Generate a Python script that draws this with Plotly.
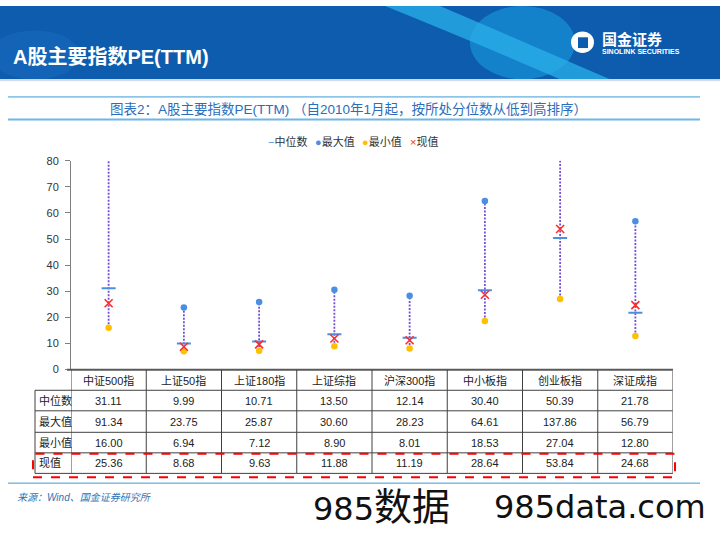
import plotly.graph_objects as go

# ---------------- data ----------------
categories = ["中证500指", "上证50指", "上证180指", "上证综指", "沪深300指", "中小板指", "创业板指", "深证成指"]
median_vals = [31.11, 9.99, 10.71, 13.50, 12.14, 30.40, 50.39, 21.78]
max_vals = [91.34, 23.75, 25.87, 30.60, 28.23, 64.61, 137.86, 56.79]
min_vals = [16.00, 6.94, 7.12, 8.90, 8.01, 18.53, 27.04, 12.80]
current_vals = [25.36, 8.68, 9.63, 11.88, 11.19, 28.64, 53.84, 24.68]
row_labels = ["中位数", "最大值", "最小值", "现值"]
y_ticks = [0, 10, 20, 30, 40, 50, 60, 70, 80]

W, H = 720, 540
FONT = "Arial, 'Liberation Sans', 'Noto Sans CJK SC', sans-serif"


def px(p):
    return p / W


def py(p):
    return 1 - p / H


xs = list(range(len(categories)))

fig = go.Figure()

# range lines (min -> max)
lx, ly = [], []
for i in xs:
    lx += [i, i, None]
    ly += [min_vals[i], max_vals[i], None]
fig.add_trace(go.Scatter(x=lx, y=ly, mode="lines",
                         line=dict(color="#7350D6", width=1.8, dash="2px,1.5px"),
                         hoverinfo="skip", name="range"))
fig.add_trace(go.Scatter(x=xs, y=min_vals, mode="markers", name="最小值",
                         marker=dict(symbol="circle", size=6.5, color="#FFC000")))
fig.add_trace(go.Scatter(x=xs, y=max_vals, mode="markers", name="最大值",
                         marker=dict(symbol="circle", size=6.5, color="#4A8FE2")))
fig.add_trace(go.Scatter(x=xs, y=median_vals, mode="markers", name="中位数",
                         marker=dict(symbol="line-ew", size=10,
                                     line=dict(color="#4A8FE2", width=2))))
fig.add_trace(go.Scatter(x=xs, y=current_vals, mode="markers", name="现值",
                         marker=dict(symbol="x-thin", size=8,
                                     line=dict(color="#FF2A2A", width=1.6))))

shapes = []
annotations = []

# ---------------- header banner ----------------
shapes.append(dict(type="rect", xref="paper", yref="paper", x0=0, x1=1, y0=py(75), y1=1,
                   fillcolor="#0D5CAD", line=dict(width=0), layer="below"))
shapes.append(dict(type="circle", xref="paper", yref="paper", x0=px(-10), x1=px(80), y0=py(75), y1=py(25),
                   fillcolor="#1A6FC2", opacity=0.45, line=dict(width=0), layer="below"))
shapes.append(dict(type="circle", xref="paper", yref="paper", x0=px(470), x1=px(575), y0=py(75), y1=py(0),
                   fillcolor="#1CA3E3", opacity=0.55, line=dict(width=0), layer="below"))
streak = "M {a},{b} L {c},{b} Q {d},{e} {f},{g} L {h},{g} Q {i},{j} {a},{b} Z".format(
    a=px(385), b=py(0), c=px(440), d=px(520), e=py(35), f=px(610), g=py(75), h=px(560), i=px(470), j=py(35))
shapes.append(dict(type="path", xref="paper", yref="paper", path=streak,
                   fillcolor="#2AB0EA", opacity=0.75, line=dict(width=0), layer="below"))
shapes.append(dict(type="rect", xref="paper", yref="paper", x0=px(640), x1=1, y0=py(75), y1=py(0),
                   fillcolor="#0B55A8", opacity=0.6, line=dict(width=0), layer="below"))
shapes.append(dict(type="line", xref="paper", yref="paper", x0=0, x1=1, y0=py(76), y1=py(76),
                   line=dict(color="#D5DDE6", width=2), layer="below"))
annotations.append(dict(text="<b>A股主要指数PE(TTM)</b>", xref="paper", yref="paper",
                        x=px(11), y=py(52), xanchor="left", yanchor="middle", showarrow=False,
                        font=dict(family=FONT, size=20, color="white")))
# logo
shapes.append(dict(type="circle", xref="paper", yref="paper", x0=px(571), x1=px(594), y0=py(48), y1=py(26),
                   fillcolor="white", line=dict(width=0)))
shapes.append(dict(type="rect", xref="paper", yref="paper", x0=px(578), x1=px(588), y0=py(43), y1=py(32),
                   fillcolor="#0D5CAD", line=dict(width=0)))
annotations.append(dict(text="<b>国金证券</b>", xref="paper", yref="paper", x=px(600), y=py(34),
                        xanchor="left", yanchor="middle", showarrow=False,
                        font=dict(family=FONT, size=15, color="white")))
annotations.append(dict(text="<b>SINOLINK SECURITIES</b>", xref="paper", yref="paper", x=px(600), y=py(47),
                        xanchor="left", yanchor="middle", showarrow=False,
                        font=dict(family=FONT, size=7, color="white")))

# ---------------- caption ----------------
shapes.append(dict(type="line", xref="paper", yref="paper", x0=px(8), x1=px(700), y0=py(93), y1=py(93),
                   line=dict(color="#3A9AD9", width=1)))
shapes.append(dict(type="line", xref="paper", yref="paper", x0=px(8), x1=px(700), y0=py(116), y1=py(116),
                   line=dict(color="#6DB6E6", width=2)))
annotations.append(dict(text="图表2：A股主要指数PE(TTM) （自2010年1月起，按所处分位数从低到高排序）",
                        xref="paper", yref="paper", x=px(348), y=py(105), xanchor="center", yanchor="middle",
                        showarrow=False, font=dict(family=FONT, size=13.5, color="#2A6EBB")))

# ---------------- legend ----------------
legend_items = [
    (266, "<span style='color:#4A8FE2'>−</span>中位数"),
    (313, "<span style='color:#4A8FE2'>●</span>最大值"),
    (360, "<span style='color:#FFC000'>●</span>最小值"),
    (408, "<span style='color:#FF2A2A'>×</span>现值"),
]
for lxp, txt in legend_items:
    annotations.append(dict(text=txt, xref="paper", yref="paper", x=px(lxp), y=py(139),
                            xanchor="left", yanchor="middle", showarrow=False,
                            font=dict(family=FONT, size=11, color="#333333")))

# ---------------- table ----------------
Y0 = 372
row_edges = [372, 393, 414, 436, 457, 478]
grid = "#404040"
# axis base line
shapes.append(dict(type="line", xref="paper", yref="paper", x0=px(67), x1=px(673), y0=py(Y0), y1=py(Y0),
                   line=dict(color="#595959", width=2)))
for ry in row_edges[1:]:
    shapes.append(dict(type="line", xref="paper", yref="paper", x0=px(35), x1=px(673), y0=py(ry), y1=py(ry),
                       line=dict(color=grid, width=1)))
shapes.append(dict(type="line", xref="paper", yref="paper", x0=px(35), x1=px(35),
                   y0=py(row_edges[1]), y1=py(row_edges[-1]), line=dict(color=grid, width=1)))
for k in range(len(categories) + 1):
    shapes.append(dict(type="line", xref="x", yref="paper", x0=k - 0.5, x1=k - 0.5,
                       y0=py(Y0), y1=py(row_edges[-1]),
                       line=dict(color="#808080" if k == len(categories) else grid,
                                 width=1.5 if k == len(categories) else 1)))

for i, c in enumerate(categories):
    annotations.append(dict(text=c, xref="x", yref="paper", x=i, y=py((row_edges[0] + row_edges[1]) / 2),
                            xanchor="center", yanchor="middle", showarrow=False,
                            font=dict(family=FONT, size=11, color="#222222")))
table_rows = [median_vals, max_vals, min_vals, current_vals]
for r, (lab, vals) in enumerate(zip(row_labels, table_rows)):
    cy = py((row_edges[r + 1] + row_edges[r + 2]) / 2)
    annotations.append(dict(text=lab, xref="paper", yref="paper", x=px(37), y=cy,
                            xanchor="left", yanchor="middle", showarrow=False,
                            font=dict(family=FONT, size=11, color="#222222")))
    for i, v in enumerate(vals):
        annotations.append(dict(text=f"{v:.2f}", xref="x", yref="paper", x=i, y=cy,
                                xanchor="center", yanchor="middle", showarrow=False,
                                font=dict(family=FONT, size=11, color="#222222")))

# red dashed highlight
shapes.append(dict(type="rect", xref="paper", yref="paper", x0=px(33), x1=px(675), y0=py(482), y1=py(458),
                   line=dict(color="#FF0000", width=2, dash="dash"), fillcolor="rgba(0,0,0,0)"))

# bottom rule + source
shapes.append(dict(type="line", xref="paper", yref="paper", x0=px(8), x1=px(700), y0=py(488), y1=py(488),
                   line=dict(color="#3A9AD9", width=1)))
annotations.append(dict(text="<i>来源：Wind、国金证券研究所</i>", xref="paper", yref="paper", x=px(15), y=py(503),
                        xanchor="left", yanchor="middle", showarrow=False,
                        font=dict(family=FONT, size=10, color="#2E75B6")))

# watermark
annotations.append(dict(text="985<span style='font-size:38px'>数据</span>", xref="paper", yref="paper",
                        x=px(311), y=py(512),
                        xanchor="left", yanchor="middle", showarrow=False,
                        font=dict(family="'DejaVu Sans', 'Noto Sans CJK SC'", size=32, color="#111111")))
annotations.append(dict(text="985data.com", xref="paper", yref="paper", x=px(708), y=py(512),
                        xanchor="right", yanchor="middle", showarrow=False,
                        font=dict(family="'DejaVu Sans'", size=32, color="#111111")))

fig.update_layout(
    width=W, height=H, autosize=False,
    margin=dict(l=0, r=0, t=0, b=0),
    paper_bgcolor="white", plot_bgcolor="white",
    showlegend=False,
    font=dict(family=FONT, size=11, color="#333333"),
    xaxis=dict(domain=[px(71), px(673)], range=[-0.5, len(categories) - 0.5],
               showticklabels=False, showgrid=False, zeroline=False, showline=False, ticks=""),
    yaxis=dict(domain=[py(371.7), py(158.3)], range=[0, 80], tickvals=y_ticks,
               ticks="outside", ticklen=5, tickcolor="#808080", tickwidth=1,
               showline=True, linecolor="#808080", linewidth=1,
               showgrid=False, zeroline=False, ticklabelstandoff=4,
               tickfont=dict(family=FONT, size=11, color="#333333")),
    shapes=shapes,
    annotations=annotations,
)

fig.write_html(
    "out.html", config={"displayModeBar": False},
    post_script=("document.body.style.margin='0';document.body.style.padding='0';"
                 "var d=document.getElementById('{plot_id}');"
                 "d.style.position='absolute';d.style.top='0px';d.style.left='0px';"))
